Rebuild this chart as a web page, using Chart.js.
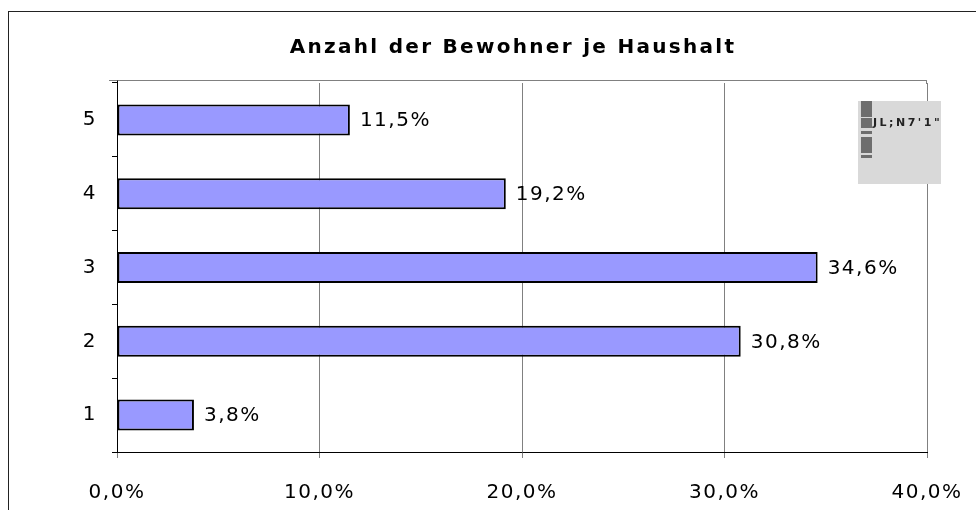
<!DOCTYPE html>
<html>
<head>
<meta charset="utf-8">
<title>Anzahl der Bewohner je Haushalt</title>
<script src="https://cdn.jsdelivr.net/npm/chart.js@4/dist/chart.umd.min.js"></script>
<style>
  body { margin: 0; background: #fff; }
  canvas { display: block; }
</style>
</head>
<body>
<canvas id="householdChart" width="976" height="510"></canvas>
<script>
// data
const titleText = 'Anzahl der Bewohner je Haushalt';
const categories = ['1', '2', '3', '4', '5'];
const shares = [3.8, 30.8, 34.6, 19.2, 11.5]; // percent
const axisMax = 40;
const axisStep = 10;

const fontFamily = '"DejaVu Sans", Verdana, sans-serif';
const spacing = '1.5px';

function pct(v) {
  return v.toFixed(1).replace('.', ',') + '%';
}

// the original text is rendered a bit wider, so spread the letters
const spacingPlugin = {
  id: 'spacing',
  beforeLayout(chart) { chart.ctx.letterSpacing = spacing; },
  beforeDraw(chart) { chart.ctx.letterSpacing = spacing; }
};

// frame, title and the grey legend remnant
const decorPlugin = {
  id: 'decor',
  beforeDraw(chart) {
    const ctx = chart.ctx;
    ctx.save();
    ctx.fillStyle = '#fff';
    ctx.fillRect(0, 0, chart.width, chart.height);
    ctx.strokeStyle = '#222';
    ctx.lineWidth = 1;
    ctx.strokeRect(8.5, 11.5, chart.width + 20, chart.height + 20);
    ctx.fillStyle = '#000';
    ctx.font = 'bold 20px ' + fontFamily;
    ctx.letterSpacing = '2.3px';
    ctx.textAlign = 'center';
    ctx.textBaseline = 'middle';
    ctx.fillText(titleText, 513, 48);
    ctx.restore();
  },
  afterDraw(chart) {
    const ctx = chart.ctx;
    const a = chart.chartArea;
    const left = Math.round(a.left) + 0.5;
    const right = Math.round(a.right) - 0.5;
    ctx.save();
    // top edge of plot area, a little above the first category
    ctx.lineWidth = 1;
    ctx.strokeStyle = '#808080';
    ctx.beginPath();
    ctx.moveTo(a.left - 8, 80.5);
    ctx.lineTo(a.right, 80.5);
    ctx.moveTo(right, 80.5);
    ctx.lineTo(right, a.top + 1);
    ctx.stroke();
    ctx.strokeStyle = '#000';
    ctx.beginPath();
    ctx.moveTo(left, 80.5);
    ctx.lineTo(left, a.top + 1);
    ctx.stroke();
    // legend box (clipped in the original)
    ctx.fillStyle = '#d9d9d9';
    ctx.fillRect(858, 101, 83, 83);
    ctx.fillStyle = '#6e6e6e';
    ctx.fillRect(861, 101, 11, 16);
    ctx.fillRect(861, 118, 11, 10);
    ctx.fillRect(861, 131, 11, 3);
    ctx.fillRect(861, 137, 11, 16);
    ctx.fillRect(861, 155, 11, 3);
    ctx.fillStyle = '#222';
    ctx.font = 'bold 11px ' + fontFamily;
    ctx.letterSpacing = '2.5px';
    ctx.textAlign = 'left';
    ctx.textBaseline = 'middle';
    ctx.fillText('JL;N7\'1"', 873, 123);
    ctx.restore();
  }
};

// value labels to the right of each bar
const valueLabels = {
  id: 'valueLabels',
  afterDatasetsDraw(chart) {
    const ctx = chart.ctx;
    const meta = chart.getDatasetMeta(0);
    ctx.save();
    ctx.fillStyle = '#000';
    ctx.font = '20px ' + fontFamily;
    ctx.textAlign = 'left';
    ctx.textBaseline = 'middle';
    meta.data.forEach((bar, i) => {
      ctx.fillText(pct(shares[i]), bar.x + 10, bar.y + 1);
    });
    ctx.restore();
  }
};

new Chart(document.getElementById('householdChart'), {
  type: 'bar',
  data: {
    labels: categories,
    datasets: [{
      data: shares,
      backgroundColor: '#9999ff',
      borderColor: '#000',
      borderWidth: 2,
      borderSkipped: false,
      barPercentage: 0.42,
      categoryPercentage: 1
    }]
  },
  options: {
    indexAxis: 'y',
    responsive: false,
    animation: false,
    layout: { padding: { top: 83, left: 20, right: 49, bottom: 0 } },
    plugins: {
      legend: { display: false },
      title: { display: false },
      tooltip: { enabled: false }
    },
    scales: {
      x: {
        min: 0,
        max: axisMax,
        afterFit(scale) {
          scale.height = 58;
          scale.paddingLeft = 0;
          scale.paddingRight = 0;
        },
        ticks: {
          stepSize: axisStep,
          color: '#000',
          padding: 23,
          font: { family: fontFamily, size: 20 },
          callback: (v) => pct(v)
        },
        grid: { color: '#808080', tickLength: 6 },
        border: { color: '#000', width: 1 }
      },
      y: {
        reverse: true,
        afterFit(scale) { scale.width = 97; },
        ticks: {
          color: '#000',
          padding: 15,
          font: { family: fontFamily, size: 20 }
        },
        grid: { drawOnChartArea: false, color: '#000', tickLength: 5, offset: true },
        border: { color: '#000', width: 1 }
      }
    }
  },
  plugins: [spacingPlugin, decorPlugin, valueLabels]
});
</script>
</body>
</html>
